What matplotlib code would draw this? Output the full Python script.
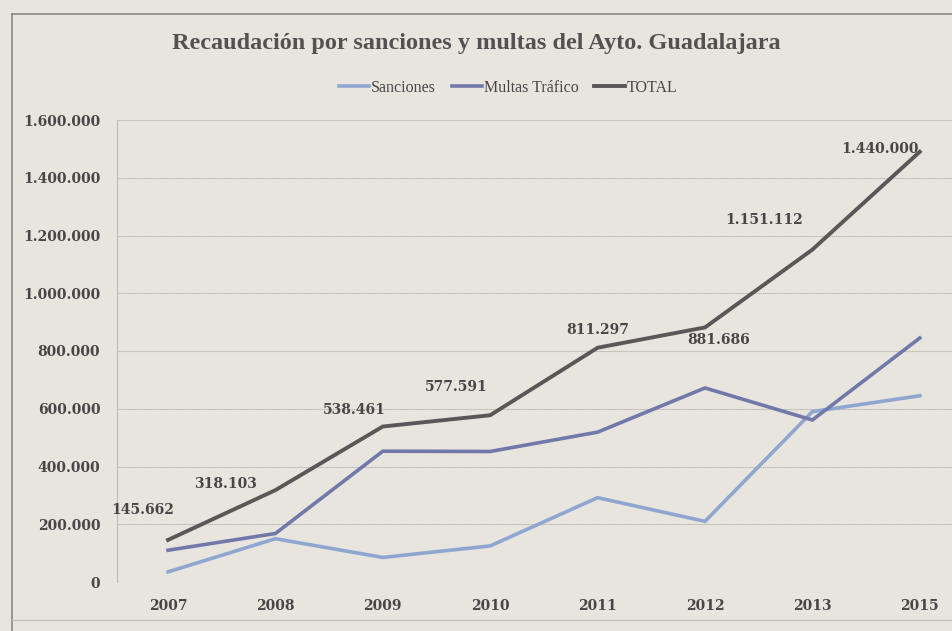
import matplotlib.pyplot as plt
from matplotlib.lines import Line2D
from matplotlib.ticker import FuncFormatter

# Data
years = ['2007', '2008', '2009', '2010', '2011', '2012', '2013', '2015']
sanciones = [35000, 150000, 85000, 125000, 292000, 210000, 590000, 645000]
multas = [110000, 168000, 453000, 452000, 519000, 672000, 561000, 845000]
total = [145662, 318103, 538461, 577591, 811297, 881686, 1151112, 1490000]
total_labels = ['145.662', '318.103', '538.461', '577.591', '811.297',
                '881.686', '1.151.112', '1.440.000']

# label offsets in pixels (dx, dy) relative to each point
label_offsets = [(-25, 30), (-50, 6), (-28, 17), (-34, 28), (0, 18),
                 (14, -13), (-48, 30), (-40, 3)]

paper = '#e7e5de'
c_sanc = '#8fa7d0'
c_mult = '#7179aa'
c_total = '#5b5759'
txt = '#4a4648'

plt.rcParams['font.family'] = ['Liberation Serif', 'DejaVu Serif']
num_font = 'DejaVu Serif'

fig = plt.figure(figsize=(9.52, 6.31), dpi=100, facecolor=paper)
ax = fig.add_axes([117 / 952, 49 / 631, 1 - 117 / 952, 462 / 631])
ax.set_facecolor(paper)

x = list(range(len(years)))
ax.plot(x, sanciones, color=c_sanc, lw=2.6, solid_joinstyle='miter')
ax.plot(x, multas, color=c_mult, lw=2.6, solid_joinstyle='miter')
ax.plot(x, total, color=c_total, lw=2.8, solid_joinstyle='miter')

for i, (lab, off) in enumerate(zip(total_labels, label_offsets)):
    ax.annotate(lab, (x[i], total[i]), xytext=(off[0] * 0.72, off[1] * 0.72),
                textcoords='offset points', ha='center', va='center',
                fontsize=10, fontweight='bold', color=txt, family=num_font)

ax.set_xlim(-0.475, 7.3)
ax.set_ylim(0, 1600000)
ax.set_xticks(x)
ax.set_xticklabels(years)
ax.set_yticks(range(0, 1600001, 200000))
ax.yaxis.set_major_formatter(FuncFormatter(lambda v, p: f'{int(v):,}'.replace(',', '.')))
ax.tick_params(length=0, labelsize=10, labelcolor=txt)
ax.tick_params(axis='y', pad=12)
ax.tick_params(axis='x', pad=12)
for lab in ax.get_xticklabels() + ax.get_yticklabels():
    lab.set_fontweight('bold')
    lab.set_family(num_font)

ax.grid(axis='y', color='#b5b3ad', lw=0.8, ls=(0, (1, 0.6)))
ax.set_axisbelow(True)
for s in ['top', 'right', 'bottom']:
    ax.spines[s].set_visible(False)
ax.spines['left'].set_color('#bdbbb5')
ax.spines['left'].set_linewidth(0.8)

fig.text(0.5, 1 - 43 / 631, 'Recaudación por sanciones y multas del Ayto. Guadalajara',
         ha='center', va='center', fontsize=17.5, fontweight='bold', color='#555153')

handles = [Line2D([], [], color=c_sanc, lw=2.6),
           Line2D([], [], color=c_mult, lw=2.6),
           Line2D([], [], color=c_total, lw=2.8)]
fig.legend(handles, ['Sanciones', 'Multas Tráfico', 'TOTAL'], loc='center',
           bbox_to_anchor=(508 / 952, 1 - 88 / 631), ncol=3, frameon=False,
           fontsize=11.5, handlelength=1.9, handletextpad=0.1, columnspacing=1.0,
           labelcolor=txt)

# outer frame of the printed graphic
fig.add_artist(Line2D([12 / 952, 12 / 952], [0, 1 - 14 / 631], color='#8a8884', lw=1.2))
fig.add_artist(Line2D([12 / 952, 1], [1 - 14 / 631, 1 - 14 / 631], color='#8a8884', lw=1.2))
fig.add_artist(Line2D([12 / 952, 1], [1 - 620 / 631, 1 - 620 / 631], color='#c4c2bc', lw=1.0))

fig.savefig('out.png', dpi=100, facecolor=paper)
